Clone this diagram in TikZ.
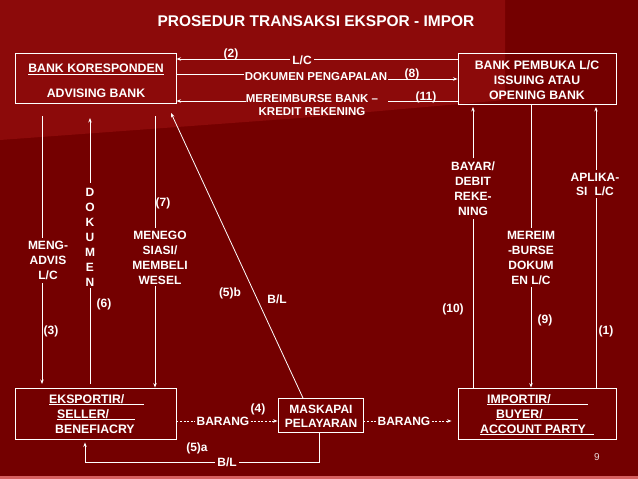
\documentclass[tikz,border=0pt]{standalone}
\usepackage{fontspec}
\setmainfont{Liberation Sans}
\usetikzlibrary{arrows.meta}
\definecolor{bgred}{RGB}{116,0,0}
\definecolor{bgtop}{RGB}{140,10,10}
\definecolor{stripe}{RGB}{214,96,96}
\begin{document}
\begin{tikzpicture}[x=1pt,y=-1pt,
  lbl/.style={font=\bfseries\fontsize{12}{15}\selectfont, text=white, inner sep=0pt, align=center},
  boxtxt/.style={lbl, font=\bfseries\fontsize{12.3}{15}\selectfont},
  boxnode/.style={draw=white, line width=0.9pt, inner sep=0pt},
  wire/.style={draw=white, line width=0.8pt},
  arr/.style={wire, -{Stealth[length=4.5pt,width=3.4pt]}},
  dwire/.style={wire, dash pattern=on 2pt off 1.6pt},
  darr/.style={dwire, -{Stealth[length=4.5pt,width=3.4pt]}}
]
\useasboundingbox (0,0) rectangle (638,479);
% background
\fill[bgred] (0,0) rectangle (638,479);
\fill[bgtop] (0,0) -- (505,0) -- (505,100) -- (300,118) -- (0,140) -- cycle;
\fill[stripe] (0,476) rectangle (638,478.5);

% title
\node[lbl, font=\bfseries\fontsize{15.5}{18}\selectfont] (title) at (316,21) {PROSEDUR TRANSAKSI EKSPOR - IMPOR};

% boxes
\node[boxnode, minimum width=161pt, minimum height=50pt] (bk) at (95.5,78) {};
\node[boxnode, minimum width=158pt, minimum height=51pt] (bp) at (537,78.5) {};
\node[boxnode, minimum width=161pt, minimum height=51pt] (ex) at (95.5,413.5) {};
\node[boxnode, minimum width=85pt, minimum height=34pt] (ms) at (320.5,415) {};
\node[boxnode, minimum width=158pt, minimum height=51pt] (im) at (537,413.5) {};

% box texts
\node[boxtxt] (bk1) at (96,69) {\underline{BANK KORESPONDEN}};
\node[boxtxt] (bk2) at (96,93) {ADVISING BANK};
\node[boxtxt] (bpt) at (537,80) {BANK PEMBUKA L/C\\ISSUING ATAU\\OPENING BANK};
\node[boxtxt, anchor=base west] (ex1) at (49,403) {\underline{EKSPORTIR/\hspace{20pt}}};
\node[boxtxt, anchor=base west] (ex2) at (57,418) {\underline{SELLER/\hspace{26pt}}};
\node[boxtxt, anchor=base west] (ex3) at (55,433) {BENEFIACRY};
\node[lbl, font=\bfseries\fontsize{12}{13.5}\selectfont] (mst) at (321,416.5) {MASKAPAI\\PELAYARAN};
\node[boxtxt, anchor=base west] (im1) at (487,403) {\underline{IMPORTIR/\hspace{37pt}}};
\node[boxtxt, anchor=base west] (im2) at (496,418) {\underline{BUYER/\hspace{35pt}}};
\node[boxtxt, anchor=base west] (im3) at (480,433) {\underline{ACCOUNT PARTY\hspace{8pt}}};

% top connectors
\node[lbl] (lc) at (302,60) {L/C};
\node[lbl] (n2) at (231,54) {(2)};
\draw[wire] (bp.west |- 0,59) -- ([xshift=2pt]lc.east |- 0,59);
\draw[arr] ([xshift=-2pt]lc.west |- 0,59) -- (bk.east |- 0,59);

\node[lbl, font=\bfseries\fontsize{11.5}{15}\selectfont] (dp) at (316,77) {DOKUMEN PENGAPALAN};
\node[lbl] (n8) at (412,74) {(8)};
\draw[wire] (bk.east |- 0,74) -- ([xshift=-1pt]dp.west |- 0,74);
\draw[arr] ([xshift=1pt]dp.east |- 0,79) -- (bp.west |- 0,79);

\node[lbl, font=\bfseries\fontsize{11.5}{13}\selectfont] (mb) at (312,105.5) {MEREIMBURSE BANK --\\KREDIT REKENING};
\node[lbl] (n11) at (426,97) {(11)};
\coordinate (mbR) at (388,101);
\coordinate (mbL) at (246,101);
\draw[wire] (bp.west |- mbR) -- (mbR);
\draw[arr] (mbL) -- (bk.east |- mbL);

% left verticals
\node[lbl] (madv) at (48,260.5) {MENG-\\ADVIS\\L/C};
\node[lbl] (n3) at (51,331) {(3)};
\draw[wire] (42,116) -- ([yshift=3pt]madv.north -| 42,0);
\draw[arr] ([yshift=-3pt]madv.south -| 42,0) -- (42,384);

\node[lbl] (dok) at (90,237) {D\\O\\K\\U\\M\\E\\N};
\node[lbl] (n6) at (104,304) {(6)};
\draw[wire] (90,384) -- ([yshift=-2pt]dok.south);
\draw[arr] ([yshift=5pt]dok.north) -- (90,118);

\node[lbl] (mng) at (160,257.5) {MENEGO\\SIASI/\\MEMBELI\\WESEL};
\node[lbl] (n7) at (163,203) {(7)};
\draw[wire] (155,116) -- ([yshift=3pt]mng.north -| 155,0);
\draw[arr] ([yshift=-2pt]mng.south -| 155,0) -- (ex.north -| 155,0);

% diagonal B/L
\coordinate (dgB) at (303,398);
\coordinate (dgT) at (171,113);
\draw[arr] (dgB) -- (dgT);
\node[lbl] (n5b) at (230,293) {(5)b};
\node[lbl] (bl1) at (277,299) {B/L};

% right verticals
\node[lbl] (bay) at (473,188.5) {BAYAR/\\DEBIT\\REKE-\\NING};
\node[lbl] (n10) at (453,309) {(10)};
\draw[wire] (im.north -| 473,0) -- ([yshift=-3pt]bay.south);
\draw[arr] ([yshift=3pt]bay.north) -- (473,107);

\node[lbl] (mrb) at (531,257.5) {MEREIM\\-BURSE\\DOKUM\\EN L/C};
\node[lbl] (n9) at (545,320) {(9)};
\draw[wire] (bp.south -| 531,0) -- ([yshift=3pt]mrb.north -| 531,0);
\draw[arr] ([yshift=-3pt]mrb.south -| 531,0) -- (im.north -| 531,0);

\node[lbl, font=\bfseries\fontsize{12}{14}\selectfont] (apl) at (595,184) {APLIKA-\\SI\hspace{7pt}L/C};
\node[lbl] (n1) at (606,331) {(1)};
\draw[wire] (im.north -| 596,0) -- ([yshift=-3pt]apl.south -| 596,0);
\draw[arr] ([yshift=3pt]apl.north -| 596,0) -- (596,107);

% barang
\node[lbl] (br1) at (223,421) {BARANG};
\node[lbl] (n4) at (258,409) {(4)};
\draw[dwire] (ex.east |- br1) -- ([xshift=-1pt]br1.west);
\draw[darr] ([xshift=1pt]br1.east) -- (ms.west |- br1);
\node[lbl] (br2) at (404,421) {BARANG};
\draw[dwire] (ms.east |- br2) -- ([xshift=-1pt]br2.west);
\draw[darr] ([xshift=1pt]br2.east) -- ([xshift=-6pt]im.west |- br2);

% bottom B/L
\node[lbl] (bl2) at (227,462) {B/L};
\node[lbl] (n5a) at (197,448) {(5)a};
\draw[wire] (ms.south -| 319,0) -- (319,462) -- ([xshift=2pt]bl2.east |- 0,462);
\draw[arr] ([xshift=-2pt]bl2.west |- 0,462) -- (85,462) -- ([yshift=-3pt]ex.south -| 85,0);

% page number
\node[font=\fontsize{10}{12}\selectfont, text=white!85!bgred, inner sep=0pt] (pg) at (597,457) {9};
\end{tikzpicture}
\end{document}
